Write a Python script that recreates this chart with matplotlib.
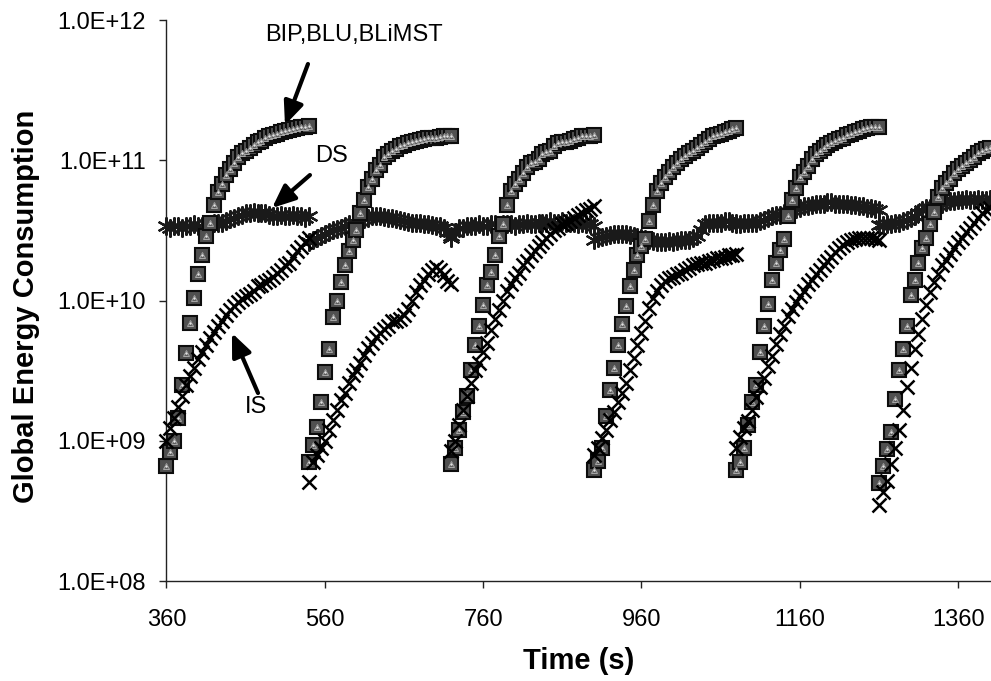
import matplotlib
matplotlib.use("Agg")
import matplotlib.pyplot as plt
from matplotlib.ticker import FixedLocator, FixedFormatter, NullLocator

plt.rcParams["font.family"] = ["Liberation Sans", "DejaVu Sans"]

# sampling instants inside one repetition (s) and the start of each repetition
tau = [0, 5, 10, 15, 20, 25, 30, 35, 40, 45, 50, 55, 60, 65, 70, 75, 80, 85, 90,
       95, 100, 105, 110, 115, 120, 125, 130, 135, 140, 145, 150, 155, 160, 165,
       170, 175, 180]
cycle_start = [360, 540, 720, 900, 1080, 1260]

# BIP, BLU and BLiMST give the same consumption, so one list per repetition
bl_cycles = [
    [6.6e8, 8.3e8, 1.0e9, 1.45e9, 2.5e9, 4.2e9, 6.9e9, 1.05e10, 1.55e10, 2.1e10,
     2.9e10, 3.6e10, 4.8e10, 5.9e10, 6.8e10, 7.8e10, 8.7e10, 9.5e10, 1.05e11,
     1.12e11, 1.17e11, 1.23e11, 1.29e11, 1.35e11, 1.38e11, 1.45e11, 1.48e11,
     1.51e11, 1.55e11, 1.58e11, 1.62e11, 1.64e11, 1.66e11, 1.70e11, 1.72e11,
     1.74e11, 1.76e11],
    [7.1e8, 9.3e8, 1.26e9, 1.9e9, 3.1e9, 4.5e9, 7.6e9, 1.0e10, 1.35e10, 1.8e10,
     2.25e10, 2.7e10, 3.2e10, 4.2e10, 5.2e10, 6.5e10, 7.4e10, 8.5e10, 9.3e10,
     1.05e11, 1.1e11, 1.17e11, 1.2e11, 1.26e11, 1.29e11, 1.32e11, 1.35e11,
     1.38e11, 1.4e11, 1.41e11, 1.43e11, 1.45e11, 1.45e11, 1.46e11, 1.48e11,
     1.48e11, 1.5e11],
    [6.8e8, 8.9e8, 1.2e9, 1.6e9, 2.1e9, 3.2e9, 4.8e9, 6.6e9, 9.3e9, 1.3e10,
     1.6e10, 2.1e10, 2.9e10, 3.5e10, 4.8e10, 6.0e10, 6.8e10, 7.4e10, 8.1e10,
     8.9e10, 9.5e10, 9.8e10, 1.02e11, 1.1e11, 1.15e11, 1.17e11, 1.26e11,
     1.32e11, 1.35e11, 1.36e11, 1.38e11, 1.41e11, 1.45e11, 1.48e11, 1.48e11,
     1.5e11, 1.51e11],
    [6.2e8, 7.2e8, 8.9e8, 1.5e9, 2.3e9, 3.3e9, 4.8e9, 6.8e9, 9.1e9, 1.26e10,
     1.66e10, 2.1e10, 2.45e10, 2.75e10, 3.7e10, 4.8e10, 6.0e10, 6.9e10, 7.6e10,
     8.3e10, 8.9e10, 9.5e10, 1.02e11, 1.07e11, 1.12e11, 1.17e11, 1.23e11,
     1.29e11, 1.35e11, 1.41e11, 1.48e11, 1.51e11, 1.55e11, 1.58e11, 1.62e11,
     1.66e11, 1.7e11],
    [6.2e8, 7.1e8, 8.9e8, 1.3e9, 1.9e9, 2.5e9, 4.3e9, 6.6e9, 9.5e9, 1.4e10,
     1.85e10, 2.3e10, 2.75e10, 4.0e10, 5.2e10, 6.3e10, 7.6e10, 8.3e10, 9.1e10,
     1.02e11, 1.1e11, 1.17e11, 1.23e11, 1.29e11, 1.32e11, 1.38e11, 1.41e11,
     1.45e11, 1.51e11, 1.55e11, 1.58e11, 1.62e11, 1.66e11, 1.7e11, 1.72e11,
     1.74e11, 1.74e11],
    [5.0e8, 6.6e8, 8.7e8, 1.15e9, 2.0e9, 3.2e9, 4.5e9, 6.6e9, 1.1e10, 1.4e10,
     1.85e10, 2.35e10, 2.8e10, 3.5e10, 4.3e10, 5.5e10, 6.3e10, 6.9e10, 7.4e10,
     8.1e10, 8.7e10, 9.1e10, 9.5e10, 1.0e11, 1.05e11, 1.12e11, 1.17e11, 1.2e11,
     1.23e11],
]

ds_cycles = [
    [3.4e10, 3.3e10, 3.4e10, 3.4e10, 3.3e10, 3.4e10, 3.4e10, 3.5e10, 3.4e10,
     3.4e10, 3.5e10, 3.5e10, 3.55e10, 3.55e10, 3.6e10, 3.7e10, 3.8e10, 3.9e10,
     4.0e10, 4.1e10, 4.2e10, 4.2e10, 4.3e10, 4.2e10, 4.2e10, 4.2e10, 4.1e10,
     4.0e10, 4.0e10, 4.1e10, 4.0e10, 4.0e10, 4.1e10, 4.0e10, 4.0e10, 3.9e10,
     4.0e10],
    [2.6e10, 2.7e10, 2.8e10, 2.9e10, 3.0e10, 3.1e10, 3.2e10, 3.25e10, 3.3e10,
     3.4e10, 3.5e10, 3.55e10, 3.6e10, 3.7e10, 3.8e10, 3.9e10, 4.0e10, 4.0e10,
     4.0e10, 3.95e10, 3.9e10, 3.85e10, 3.8e10, 3.75e10, 3.7e10, 3.65e10, 3.6e10,
     3.6e10, 3.55e10, 3.5e10, 3.5e10, 3.45e10, 3.4e10, 3.4e10, 3.3e10, 3.1e10,
     2.8e10],
    [2.9e10, 3.1e10, 3.3e10, 3.3e10, 3.4e10, 3.4e10, 3.4e10, 3.5e10, 3.4e10,
     3.4e10, 3.5e10, 3.5e10, 3.4e10, 3.5e10, 3.5e10, 3.5e10, 3.4e10, 3.5e10,
     3.5e10, 3.6e10, 3.5e10, 3.5e10, 3.6e10, 3.6e10, 3.6e10, 3.7e10, 3.6e10,
     3.6e10, 3.7e10, 3.6e10, 3.6e10, 3.6e10, 3.5e10, 3.6e10, 3.5e10, 3.5e10,
     3.4e10],
    [2.7e10, 2.8e10, 2.85e10, 2.9e10, 2.95e10, 3.0e10, 3.0e10, 3.0e10, 3.0e10,
     2.95e10, 2.9e10, 2.85e10, 2.8e10, 2.75e10, 2.7e10, 2.65e10, 2.6e10, 2.6e10,
     2.6e10, 2.65e10, 2.6e10, 2.65e10, 2.7e10, 2.7e10, 2.7e10, 2.8e10, 2.9e10,
     3.2e10, 3.5e10, 3.6e10, 3.6e10, 3.6e10, 3.6e10, 3.7e10, 3.7e10, 3.6e10,
     3.6e10],
    [3.5e10, 3.5e10, 3.55e10, 3.55e10, 3.6e10, 3.6e10, 3.7e10, 3.75e10, 3.9e10,
     4.0e10, 4.1e10, 4.1e10, 4.2e10, 4.3e10, 4.4e10, 4.5e10, 4.6e10, 4.7e10,
     4.7e10, 4.8e10, 4.9e10, 4.9e10, 4.9e10, 5.0e10, 5.0e10, 4.9e10, 4.9e10,
     4.9e10, 4.9e10, 4.8e10, 4.8e10, 4.7e10, 4.7e10, 4.6e10, 4.6e10, 4.5e10,
     4.4e10],
    [3.45e10, 3.45e10, 3.5e10, 3.5e10, 3.6e10, 3.6e10, 3.7e10, 3.75e10, 3.9e10,
     4.0e10, 4.2e10, 4.4e10, 4.6e10, 4.6e10, 4.7e10, 4.8e10, 4.9e10, 5.0e10,
     5.1e10, 5.1e10, 5.2e10, 5.2e10, 5.3e10, 5.2e10, 5.2e10, 5.3e10, 5.2e10,
     5.2e10, 5.3e10],
]

is_cycles = [
    [1.0e9, 1.23e9, 1.45e9, 1.74e9, 2.1e9, 2.5e9, 2.9e9, 3.3e9, 3.8e9, 4.3e9,
     4.8e9, 5.4e9, 6.0e9, 6.6e9, 7.2e9, 7.9e9, 8.5e9, 9.1e9, 9.8e9, 1.02e10,
     1.07e10, 1.12e10, 1.17e10, 1.26e10, 1.29e10, 1.35e10, 1.41e10, 1.48e10,
     1.58e10, 1.66e10, 1.78e10, 1.86e10, 2.04e10, 2.24e10, 2.4e10, 2.63e10,
     2.8e10],
    [5.1e8, 7.1e8, 7.9e8, 8.9e8, 1.0e9, 1.2e9, 1.4e9, 1.66e9, 1.95e9, 2.2e9,
     2.6e9, 2.95e9, 3.2e9, 3.6e9, 4.1e9, 4.6e9, 5.0e9, 5.5e9, 5.9e9, 6.3e9,
     6.6e9, 7.1e9, 7.2e9, 7.4e9, 7.9e9, 8.7e9, 1.0e10, 1.15e10, 1.29e10, 1.41e10,
     1.55e10, 1.66e10, 1.74e10, 1.66e10, 1.51e10, 1.38e10, 1.32e10],
    [8.5e8, 1.0e9, 1.29e9, 1.66e9, 2.1e9, 2.6e9, 3.2e9, 3.6e9, 4.3e9, 5.0e9,
     6.2e9, 7.4e9, 8.5e9, 1.0e10, 1.17e10, 1.32e10, 1.45e10, 1.58e10, 1.78e10,
     1.9e10, 2.1e10, 2.24e10, 2.45e10, 2.6e10, 2.8e10, 3.0e10, 3.2e10, 3.3e10,
     3.5e10, 3.6e10, 3.7e10, 3.9e10, 4.1e10, 4.2e10, 4.4e10, 4.5e10, 4.7e10],
    [7.9e8, 8.9e8, 1.05e9, 1.2e9, 1.4e9, 1.6e9, 1.9e9, 2.2e9, 2.6e9, 3.2e9,
     3.9e9, 4.8e9, 5.9e9, 7.2e9, 8.9e9, 1.05e10, 1.17e10, 1.29e10, 1.38e10,
     1.45e10, 1.48e10, 1.55e10, 1.58e10, 1.66e10, 1.7e10, 1.78e10, 1.82e10,
     1.86e10, 1.86e10, 1.9e10, 1.95e10, 2.0e10, 2.0e10, 2.04e10, 2.1e10,
     2.1e10, 2.14e10],
    [8.9e8, 1.07e9, 1.23e9, 1.38e9, 1.66e9, 2.04e9, 2.4e9, 2.8e9, 3.4e9, 4.0e9,
     4.9e9, 5.8e9, 6.6e9, 7.8e9, 8.7e9, 9.8e9, 1.07e10, 1.17e10, 1.32e10,
     1.41e10, 1.55e10, 1.66e10, 1.78e10, 1.9e10, 2.04e10, 2.2e10, 2.35e10,
     2.5e10, 2.6e10, 2.7e10, 2.75e10, 2.8e10, 2.8e10, 2.8e10, 2.8e10, 2.75e10,
     2.7e10],
    [3.5e8, 4.3e8, 5.2e8, 6.8e8, 8.9e8, 1.2e9, 1.66e9, 2.4e9, 3.3e9, 4.5e9,
     5.8e9, 7.4e9, 9.3e9, 1.15e10, 1.35e10, 1.55e10, 1.78e10, 1.95e10, 2.14e10,
     2.35e10, 2.6e10, 2.8e10, 3.1e10, 3.3e10, 3.6e10, 3.9e10, 4.2e10, 4.4e10,
     4.6e10],
]

xticks = [360, 560, 760, 960, 1160, 1360]
yticks = [1e8, 1e9, 1e10, 1e11, 1e12]
ytick_labels = ["1.0E+08", "1.0E+09", "1.0E+10", "1.0E+11", "1.0E+12"]

fig = plt.figure(figsize=(9.91, 6.81), dpi=100)
ax = fig.add_axes([0.168, 0.1468, 0.832, 0.8238])

for start, bl, ds, isv in zip(cycle_start, bl_cycles, ds_cycles, is_cycles):
    t_bl = [start + s for s in tau[:len(bl)]]
    t_ds = [start + s for s in tau[:len(ds)]]
    t_is = [start + s for s in tau[:len(isv)]]
    # DS
    ax.plot(t_ds, ds, ls="none", marker=(6, 2, 0), ms=13, mec="#1a1a1a",
            mew=1.6, clip_on=False, zorder=3)
    # BIP
    ax.plot(t_bl, bl, ls="none", marker="s", ms=10.5, mfc="#505050", mec="#0d0d0d",
            mew=1.5, clip_on=False, zorder=4)
    # BLU
    ax.plot(t_bl, bl, ls="none", marker="^", ms=5, mfc="#606060", mec="#a8a8a8",
            mew=0.7, clip_on=False, zorder=5)
    # BLiMST
    ax.plot(t_bl, bl, ls="none", marker="o", ms=2.2, mfc="#e0e0e0", mec="#555555",
            mew=0.3, clip_on=False, zorder=6)
    # IS
    ax.plot(t_is, isv, ls="none", marker="x", ms=10, mec="black", mew=1.8,
            clip_on=False, zorder=7)

ax.set_yscale("log")
ax.set_xlim(360, 1401.6)
ax.set_ylim(1e8, 1e12)
ax.xaxis.set_major_locator(FixedLocator(xticks))
ax.yaxis.set_major_locator(FixedLocator(yticks))
ax.yaxis.set_major_formatter(FixedFormatter(ytick_labels))
ax.yaxis.set_minor_locator(NullLocator())

for side in ["top", "right"]:
    ax.spines[side].set_visible(False)
for side in ["left", "bottom"]:
    ax.spines[side].set_linewidth(1.0)
    ax.spines[side].set_color("#222222")

ax.tick_params(direction="out", length=5, width=1, labelsize=17,
               color="#222222")
ax.tick_params(axis="x", pad=15)
ax.tick_params(axis="y", pad=10)

ax.set_xlabel("Time (s)", fontsize=21, fontweight="bold")
ax.set_ylabel("Global Energy Consumption", fontsize=21, fontweight="bold")
ax.xaxis.set_label_coords(0.5, -0.117)
ax.yaxis.set_label_coords(-0.154, 0.49)

# labels with arrows for the protocols
arrow = dict(arrowstyle="-|>,head_length=0.7,head_width=0.3", mutation_scale=20,
             lw=3, color="black", shrinkA=0, shrinkB=0)
ax.text(0.2268, 0.974, "BIP,BLU,BLiMST", transform=ax.transAxes, fontsize=17,
        ha="center", va="center")
ax.annotate("", xy=(0.1437, 0.8128), xytext=(0.1716, 0.9216),
            xycoords="axes fraction", arrowprops=arrow, annotation_clip=False)
ax.text(0.2007, 0.7576, "DS", transform=ax.transAxes, fontsize=17,
        ha="center", va="center")
ax.annotate("", xy=(0.128, 0.6649), xytext=(0.174, 0.7237),
            xycoords="axes fraction", arrowprops=arrow, annotation_clip=False)
ax.text(0.1086, 0.3102, "IS", transform=ax.transAxes, fontsize=17,
        ha="center", va="center")
ax.annotate("", xy=(0.0794, 0.4421), xytext=(0.111, 0.3351),
            xycoords="axes fraction", arrowprops=arrow, annotation_clip=False)

fig.savefig("out.png", dpi=100)
